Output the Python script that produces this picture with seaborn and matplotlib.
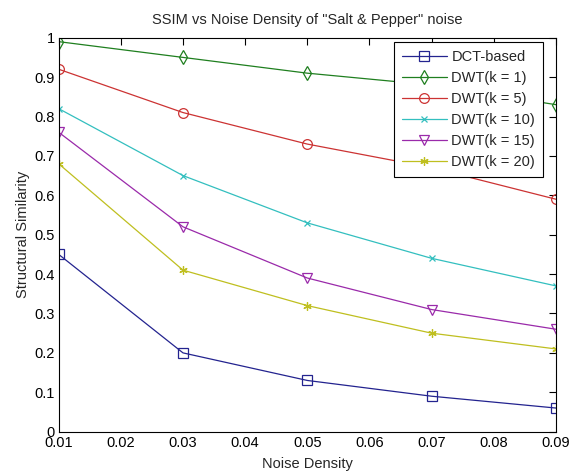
import matplotlib
matplotlib.use("Agg")
import matplotlib.pyplot as plt
import seaborn as sns
import numpy as np
import pandas as pd

noise_density = [0.01, 0.03, 0.05, 0.07, 0.09]
series_names = ["DCT-based", "DWT(k = 1)", "DWT(k = 5)", "DWT(k = 10)", "DWT(k = 15)", "DWT(k = 20)"]
dct_based = [0.45, 0.20, 0.13, 0.09, 0.06]
dwt_k1 = [0.99, 0.95, 0.91, 0.88, 0.83]
dwt_k5 = [0.92, 0.81, 0.73, 0.67, 0.59]
dwt_k10 = [0.82, 0.65, 0.53, 0.44, 0.37]
dwt_k15 = [0.76, 0.52, 0.39, 0.31, 0.26]
dwt_k20 = [0.68, 0.41, 0.32, 0.25, 0.21]

x_ticks = [0.01, 0.02, 0.03, 0.04, 0.05, 0.06, 0.07, 0.08, 0.09]
y_ticks = [0, 0.1, 0.2, 0.3, 0.4, 0.5, 0.6, 0.7, 0.8, 0.9, 1.0]

all_values = [dct_based, dwt_k1, dwt_k5, dwt_k10, dwt_k15, dwt_k20]
rows = []
for name, vals in zip(series_names, all_values):
    for x, v in zip(noise_density, vals):
        rows.append({"noise": x, "ssim": v, "method": name})
df = pd.DataFrame(rows)

colors = ["#23238f", "#1f7f1f", "#cc3333", "#33bfbf", "#9a2aaa", "#bfbf1f"]
# matlab-like markers; (6, 2, 0) is an asterisk
markers = ["s", "d", "o", "x", "v", (6, 2, 0)]
msizes = [7, 7, 7, 4.5, 7, 6]

sns.set_style("white")
plt.rcParams["font.family"] = ["Liberation Sans", "DejaVu Sans"]
FS = 10.5

fig = plt.figure(figsize=(5.72, 4.75), dpi=100)
ax = fig.add_axes([0.1026, 0.0912, 0.8694, 0.8294])

# one call per series so filled and line-art markers can be mixed
for name, c, m, ms in zip(series_names, colors, markers, msizes):
    sub = df[df["method"] == name]
    sns.lineplot(data=sub, x="noise", y="ssim", color=c, marker=m,
                 linewidth=0.9, markersize=ms, markeredgecolor=c,
                 markerfacecolor="none", markeredgewidth=0.9,
                 legend=False, ax=ax)

ax.set_xlim(0.01, 0.09)
ax.set_ylim(0, 1)
ax.set_xticks(x_ticks)
ax.set_xticklabels([f"{t:g}" for t in x_ticks])
ax.set_yticks(y_ticks)
ax.set_yticklabels([f"{t:g}" for t in y_ticks])
ax.tick_params(direction="in", top=True, right=True, length=5, width=0.8,
               labelsize=FS, colors="black", pad=3)
for s in ax.spines.values():
    s.set_color("black")
    s.set_linewidth(0.8)

ax.set_title('SSIM vs Noise Density of "Salt & Pepper" noise', fontsize=FS, pad=10)
ax.set_xlabel("Noise Density", fontsize=FS, labelpad=5)
ax.set_ylabel("Structural Similarity", fontsize=FS, labelpad=3)

leg = ax.legend(ax.lines, series_names, loc="upper right",
                bbox_to_anchor=(0.974, 0.989), borderaxespad=0,
                fancybox=False, edgecolor="black", framealpha=1, fontsize=FS,
                handlelength=3.1, labelspacing=0.48, handletextpad=0.3,
                borderpad=0.55)
leg.get_frame().set_linewidth(0.8)

fig.savefig("out.png", dpi=100)
plt.close(fig)
